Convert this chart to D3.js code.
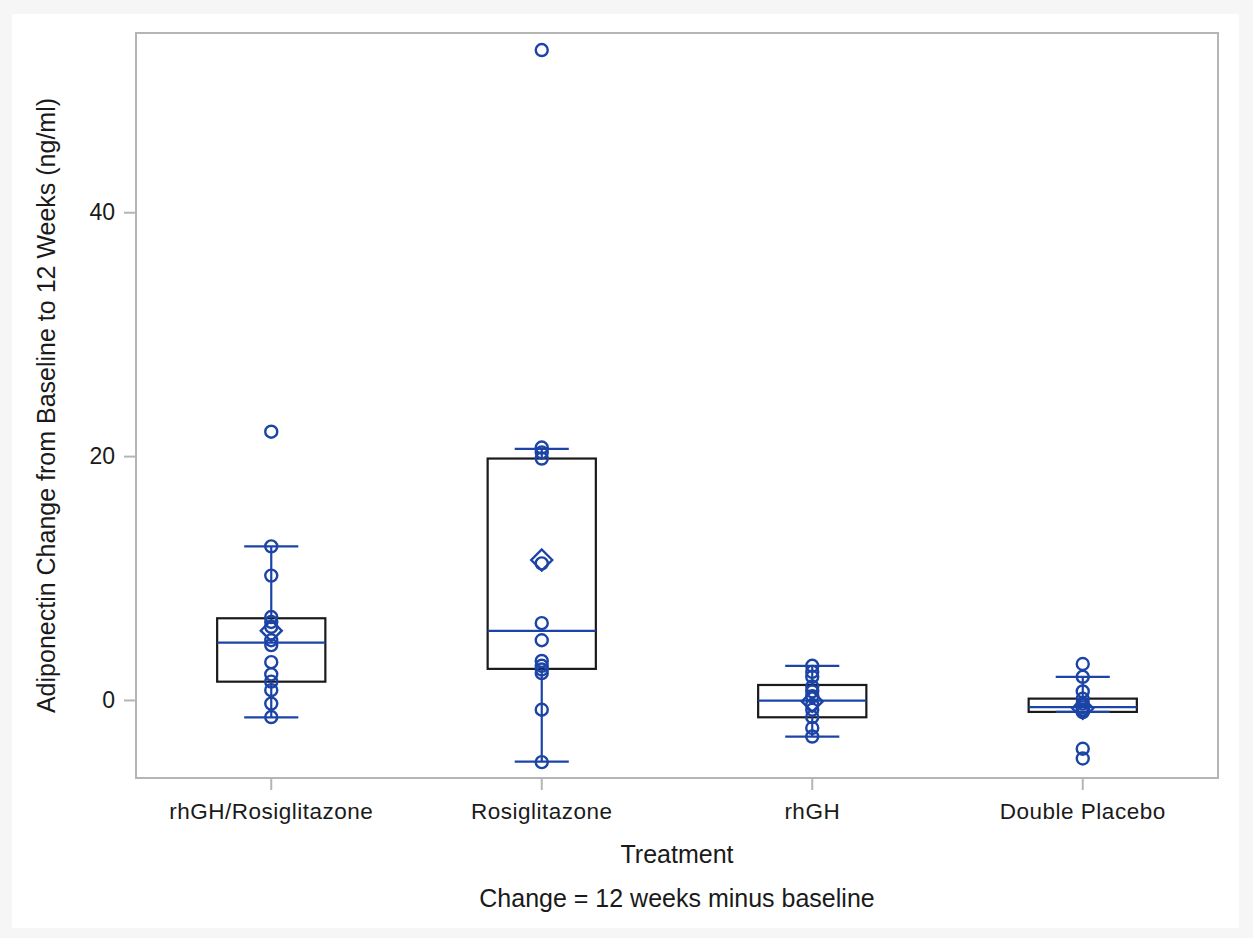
<!DOCTYPE html>
<html>
<head>
<meta charset="utf-8">
<script src="https://cdn.jsdelivr.net/npm/d3@7"></script>
<style>
  html, body { margin: 0; padding: 0; background: #f6f6f6; }
  svg { display: block; }
  text { font-family: "Liberation Sans", Arial, sans-serif; fill: #1a1a1a; }
</style>
</head>
<body>
<svg id="chart" width="1253" height="938"></svg>
<script>
// ---- Data ----
const categories = ["rhGH/Rosiglitazone", "Rosiglitazone", "rhGH", "Double Placebo"];

const pointsRhGHRosi = [22.0, 12.6, 10.2, 6.8, 6.4, 6.0, 4.9, 4.5, 3.1, 2.1, 1.5, 0.8, -0.3, -1.4];
const pointsRosi     = [53.3, 20.7, 20.3, 19.8, 11.2, 6.3, 4.9, 3.2, 2.8, 2.5, 2.2, -0.8, -5.1];
const pointsRhGH     = [2.8, 2.3, 1.9, 1.1, 0.7, 0.3, -0.4, -0.8, -1.4, -2.3, -3.0];
const pointsPlacebo  = [2.95, 1.9, 0.7, 0.1, -0.3, -0.6, -0.8, -0.9, -1.0, -4.0, -4.8];

const q1Values       = [1.5, 2.55, -1.42, -0.98];
const medianValues   = [4.7, 5.66, -0.05, -0.58];
const q3Values       = [6.7, 19.8, 1.23, 0.11];
const whiskerLow     = [-1.42, -5.05, -3.0, -0.98];
const whiskerHigh    = [12.6, 20.6, 2.8, 1.9];
const meanValues     = [5.68, 11.48, -0.12, -0.68];

const yTicks = [0, 20, 40];
const yLabel = "Adiponectin Change from Baseline to 12 Weeks (ng/ml)";
const xLabel = "Treatment";
const footnote = "Change = 12 weeks minus baseline";

// ---- Layout ----
const W = 1253, H = 938;
const plot = { left: 136, right: 1218, top: 33, bottom: 778 };
const blue = "#1c44a6";
const frameColor = "#b5b5b5";

const svg = d3.select("#chart");

// page panel
svg.append("rect").attr("x", 0).attr("y", 0).attr("width", W).attr("height", H).attr("fill", "#f6f6f6");
svg.append("rect").attr("x", 12).attr("y", 14).attr("width", 1227).attr("height", 914).attr("fill", "#ffffff");

const x = d3.scaleBand().domain(categories).range([plot.left, plot.right]).paddingInner(0).paddingOuter(0);
const y = d3.scaleLinear().domain([-6.4, 54.7]).range([plot.bottom, plot.top]);

const groups = categories.map((c, i) => ({
  cat: c,
  pts: [pointsRhGHRosi, pointsRosi, pointsRhGH, pointsPlacebo][i],
  q1: q1Values[i], med: medianValues[i], q3: q3Values[i],
  lo: whiskerLow[i], hi: whiskerHigh[i], mean: meanValues[i]
}));

// frame
svg.append("rect")
  .attr("x", plot.left).attr("y", plot.top)
  .attr("width", plot.right - plot.left).attr("height", plot.bottom - plot.top)
  .attr("fill", "none").attr("stroke", frameColor).attr("stroke-width", 2);

// Y axis
const yAxis = d3.axisLeft(y).tickValues(yTicks).tickSize(12).tickPadding(9).tickFormat(d3.format("d"));
const yg = svg.append("g").attr("transform", `translate(${plot.left},0)`).call(yAxis);
yg.select(".domain").remove();
yg.selectAll(".tick line").attr("stroke", frameColor).attr("stroke-width", 2);
yg.selectAll(".tick text").style("font-size", "23px").style("font-family", "'Liberation Sans', Arial, sans-serif").attr("fill", "#1a1a1a");

// X axis
const xAxis = d3.axisBottom(x).tickSize(12).tickPadding(13);
const xg = svg.append("g").attr("transform", `translate(0,${plot.bottom})`).call(xAxis);
xg.select(".domain").remove();
xg.selectAll(".tick line").attr("stroke", frameColor).attr("stroke-width", 2);
xg.selectAll(".tick text").style("font-size", "22.5px").style("letter-spacing", "0.5px")
  .style("font-family", "'Liberation Sans', Arial, sans-serif").attr("fill", "#1a1a1a");

// Axis labels
svg.append("text")
  .attr("transform", `translate(55,${(plot.top + plot.bottom) / 2}) rotate(-90)`)
  .attr("text-anchor", "middle").style("font-size", "25px").text(yLabel);
svg.append("text")
  .attr("x", (plot.left + plot.right) / 2).attr("y", 863)
  .attr("text-anchor", "middle").style("font-size", "25px").text(xLabel);
svg.append("text")
  .attr("x", (plot.left + plot.right) / 2).attr("y", 907)
  .attr("text-anchor", "middle").style("font-size", "25px").text(footnote);

// Boxes
const boxW = x.bandwidth() * 0.4;
const capW = x.bandwidth() * 0.2;
const g = svg.append("g");

groups.forEach(d => {
  const cx = x(d.cat) + x.bandwidth() / 2;
  const gg = g.append("g");
  // box
  gg.append("rect")
    .attr("x", cx - boxW / 2).attr("y", y(d.q3))
    .attr("width", boxW).attr("height", y(d.q1) - y(d.q3))
    .attr("fill", "none").attr("stroke", "#1a1a1a").attr("stroke-width", 2.2);
  // whiskers
  gg.append("line").attr("x1", cx).attr("x2", cx).attr("y1", y(d.q3)).attr("y2", y(d.hi))
    .attr("stroke", blue).attr("stroke-width", 2.2);
  gg.append("line").attr("x1", cx).attr("x2", cx).attr("y1", y(d.q1)).attr("y2", y(d.lo))
    .attr("stroke", blue).attr("stroke-width", 2.2);
  [d.hi, d.lo].forEach(v => {
    gg.append("line").attr("x1", cx - capW / 2).attr("x2", cx + capW / 2).attr("y1", y(v)).attr("y2", y(v))
      .attr("stroke", blue).attr("stroke-width", 2.2);
  });
  // median
  gg.append("line").attr("x1", cx - boxW / 2).attr("x2", cx + boxW / 2).attr("y1", y(d.med)).attr("y2", y(d.med))
    .attr("stroke", blue).attr("stroke-width", 2.2);
  // mean diamond
  const s = 10.5;
  const my = y(d.mean);
  gg.append("path")
    .attr("d", `M${cx},${my - s}L${cx + s},${my}L${cx},${my + s}L${cx - s},${my}Z`)
    .attr("fill", "none").attr("stroke", blue).attr("stroke-width", 2.4);
  // points
  gg.selectAll("circle").data(d.pts).enter().append("circle")
    .attr("cx", cx).attr("cy", v => y(v)).attr("r", 6)
    .attr("fill", "none").attr("stroke", blue).attr("stroke-width", 2.4);
});
</script>
</body>
</html>
